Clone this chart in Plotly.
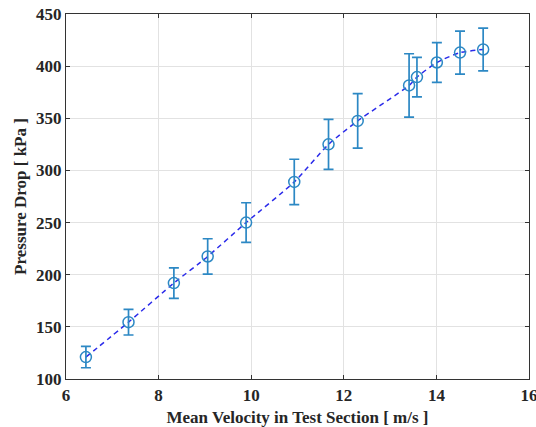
import plotly.graph_objects as go

velocity = [6.43, 7.35, 8.33, 9.06, 9.89, 10.93, 11.67, 12.30, 13.41, 13.58, 14.01, 14.51, 15.01]
pressure = [121, 154.5, 192, 217.5, 250, 289, 325, 347.5, 381.5, 389.5, 403.5, 413, 416]
error = [10.2, 12.3, 14.6, 17, 19, 21.7, 24, 26.2, 30.4, 19, 19, 20.6, 20.5]

fig = go.Figure()
fig.add_trace(go.Scatter(
    x=velocity, y=pressure, mode="lines",
    line=dict(color="#2b2bea", width=1.5, dash="5px,4px", shape="spline", smoothing=0.6),
    showlegend=False, hoverinfo="skip"))
fig.add_trace(go.Scatter(
    x=velocity, y=pressure, mode="markers",
    marker=dict(symbol="circle-open", size=11, color="#2c88c4", line=dict(width=1.5)),
    error_y=dict(type="data", array=error, visible=True, color="#2c88c4", thickness=1.7, width=5),
    showlegend=False))

font_serif = "Liberation Serif, Times New Roman, serif"
axis_common = dict(
    showgrid=True, gridcolor="#e2e2e2", gridwidth=1,
    showline=True, linecolor="#333333", linewidth=1.3, mirror="ticks",
    ticks="inside", ticklen=4, tickcolor="#333333",
    zeroline=False, automargin=False, ticklabeloverflow="allow",
    tickfont=dict(family=font_serif, size=17, color="#262626", weight="bold"),
)
title_font = dict(family=font_serif, size=17, color="#262626", weight="bold")
fig.update_layout(
    width=536, height=427,
    margin=dict(l=66, r=7, t=14, b=48),
    paper_bgcolor="white", plot_bgcolor="white",
    xaxis=dict(range=[6, 16], dtick=2,
               title=dict(text="Mean Velocity in Test Section [ m/s ]", standoff=9, font=title_font),
               **axis_common),
    yaxis=dict(range=[100, 450], dtick=50,
               title=dict(text="Pressure Drop [ kPa ]", standoff=5, font=title_font),
               **axis_common),
)
fig.write_html(
    "out.html",
    config={"displayModeBar": False},
    post_script="document.body.style.margin='0';document.body.style.overflow='hidden';",
)
